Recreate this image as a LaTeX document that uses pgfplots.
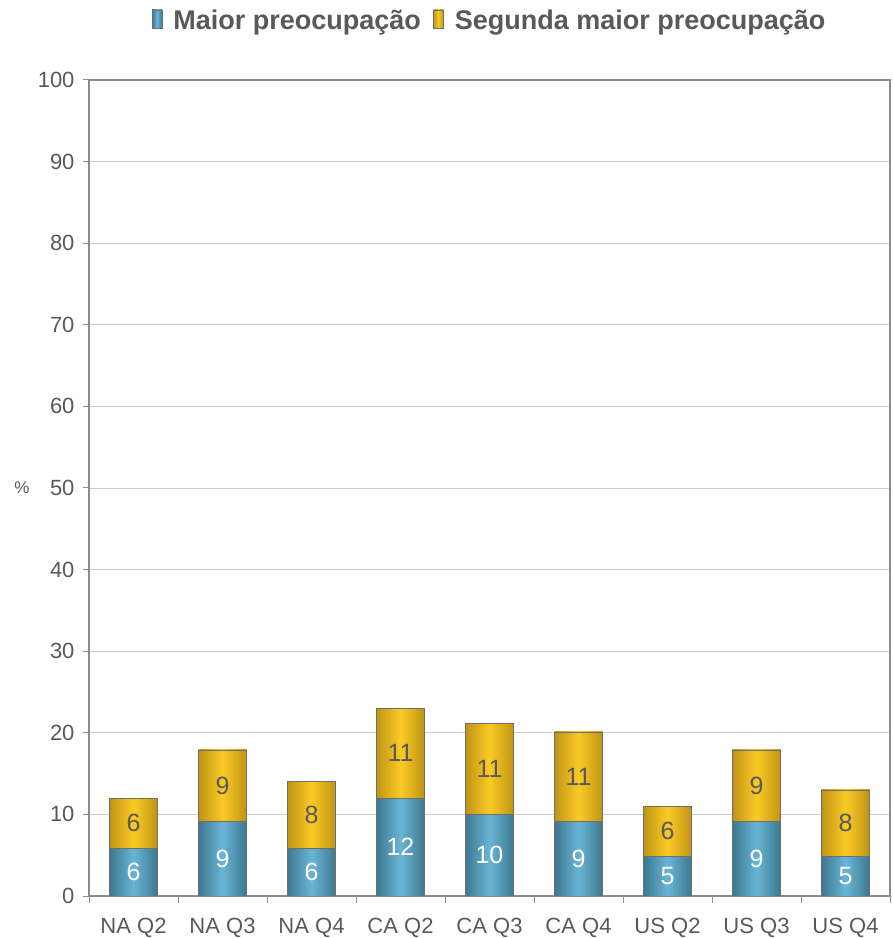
\documentclass[border=0pt]{standalone}
\usepackage{pgfplots}
\pgfplotsset{compat=1.18}
\usepackage{pgfplotstable}
\usepackage{fontspec}
\setmainfont{Liberation Sans}
\definecolor{txt}{HTML}{595959}
\definecolor{bluemid}{HTML}{69B5D5}
\definecolor{blueedge}{HTML}{3D7890}
\definecolor{yelmid}{HTML}{FBCA25}
\definecolor{yeledge}{HTML}{C09414}
\definecolor{barline}{HTML}{6E6E6E}
\definecolor{frame}{HTML}{8C8C8C}
\definecolor{gridc}{HTML}{CCCCCC}
\pgfplotstableread{
x a b t
0 5.8 6.2 12.0
1 9.1 8.8 17.9
2 5.8 8.2 14.0
3 12.0 11.0 23.0
4 10.0 11.1 21.1
5 9.1 11.0 20.1
6 4.9 6.1 11.0
7 9.1 8.8 17.9
8 4.9 8.1 13.0
}\datatable
\begin{document}
\begin{tikzpicture}
\useasboundingbox (0,0) rectangle (893bp,938bp);
\begin{axis}[
  at={(89bp,42bp)}, anchor=south west,
  scale only axis, width=801bp, height=816bp,
  xmin=-0.5, xmax=8.5, ymin=0, ymax=100,
  xtick={0,...,8},
  xticklabels={NA Q2,NA Q3,NA Q4,CA Q2,CA Q3,CA Q4,US Q2,US Q3,US Q4},
  minor xtick={-0.5,0.5,...,8.5},
  major x tick style={draw=none},
  minor x tick style={draw=frame, line width=1pt},
  ytick={0,10,...,100},
  y tick style={draw=frame, line width=1pt},
  tick align=outside, tick pos=left,
  major tick length=6bp, minor tick length=7bp,
  ymajorgrids, major grid style={draw=gridc, line width=0.8pt},
  axis line style={draw=frame, line width=1.2pt},
  yticklabel={\pgfmathprintnumber[assume math mode=true]{\tick}},
  tick label style={font=\fontsize{22bp}{25bp}\selectfont, text=txt},
  yticklabel style={xshift=-5bp},
  xticklabel style={yshift=-13bp},
  ylabel={\%},
  ylabel style={rotate=-90, at={(axis description cs:0,0.5)}, anchor=center, xshift=-67bp, font=\fontsize{17bp}{20bp}\selectfont, text=txt},
  legend columns=2,
  legend style={at={(0.5,1)}, anchor=center, yshift=60bp, draw=none, fill=none,
     font=\bfseries\fontsize{27bp}{31bp}\selectfont, text=txt,
     /tikz/every odd column/.append style={column sep=9bp},
     /tikz/every even column/.append style={column sep=10bp}},
  legend image code/.code={\draw[#1, draw=barline, line width=0.8pt] (0bp,-8bp) rectangle (10bp,10bp);},
]
% total bars (yellow) and bottom bars (blue), one plot per bar so that each bar has its own shading
\pgfplotsinvokeforeach{0,...,8}{
\addplot[forget plot, ybar, bar width=48bp, bar shift=0pt, draw=barline, line width=0.8pt,
  left color=yeledge, right color=yeledge, middle color=yelmid,
  x filter/.expression={abs(x-#1)<0.1 ? x : nan}]
  table[x=x, y=t] {\datatable};
\addplot[forget plot, ybar, bar width=48bp, bar shift=0pt, draw=barline, line width=0.8pt,
  left color=blueedge, right color=blueedge, middle color=bluemid,
  x filter/.expression={abs(x-#1)<0.1 ? x : nan}]
  table[x=x, y=a] {\datatable};
}
% value labels, centred in each segment
\addplot[forget plot, draw=none, mark=none, point meta=explicit,
  nodes near coords={\pgfmathprintnumber[fixed,precision=0,assume math mode=true]{\pgfplotspointmeta}},
  every node near coord/.append style={anchor=center, text=white, font=\fontsize{25bp}{29bp}\selectfont}]
  table[x=x, y expr=\thisrow{a}/2, meta=a] {\datatable};
\addplot[forget plot, draw=none, mark=none, point meta=explicit,
  nodes near coords={\pgfmathprintnumber[fixed,precision=0,assume math mode=true]{\pgfplotspointmeta}},
  every node near coord/.append style={anchor=center, text=txt, font=\fontsize{25bp}{29bp}\selectfont}]
  table[x=x, y expr=\thisrow{a}+\thisrow{b}/2, meta=b] {\datatable};
\addlegendimage{left color=blueedge, right color=blueedge, middle color=bluemid}
\addlegendentry{Maior preocupação}
\addlegendimage{left color=yeledge, right color=yeledge, middle color=yelmid}
\addlegendentry{Segunda maior preocupação}
\end{axis}
\end{tikzpicture}
\end{document}
